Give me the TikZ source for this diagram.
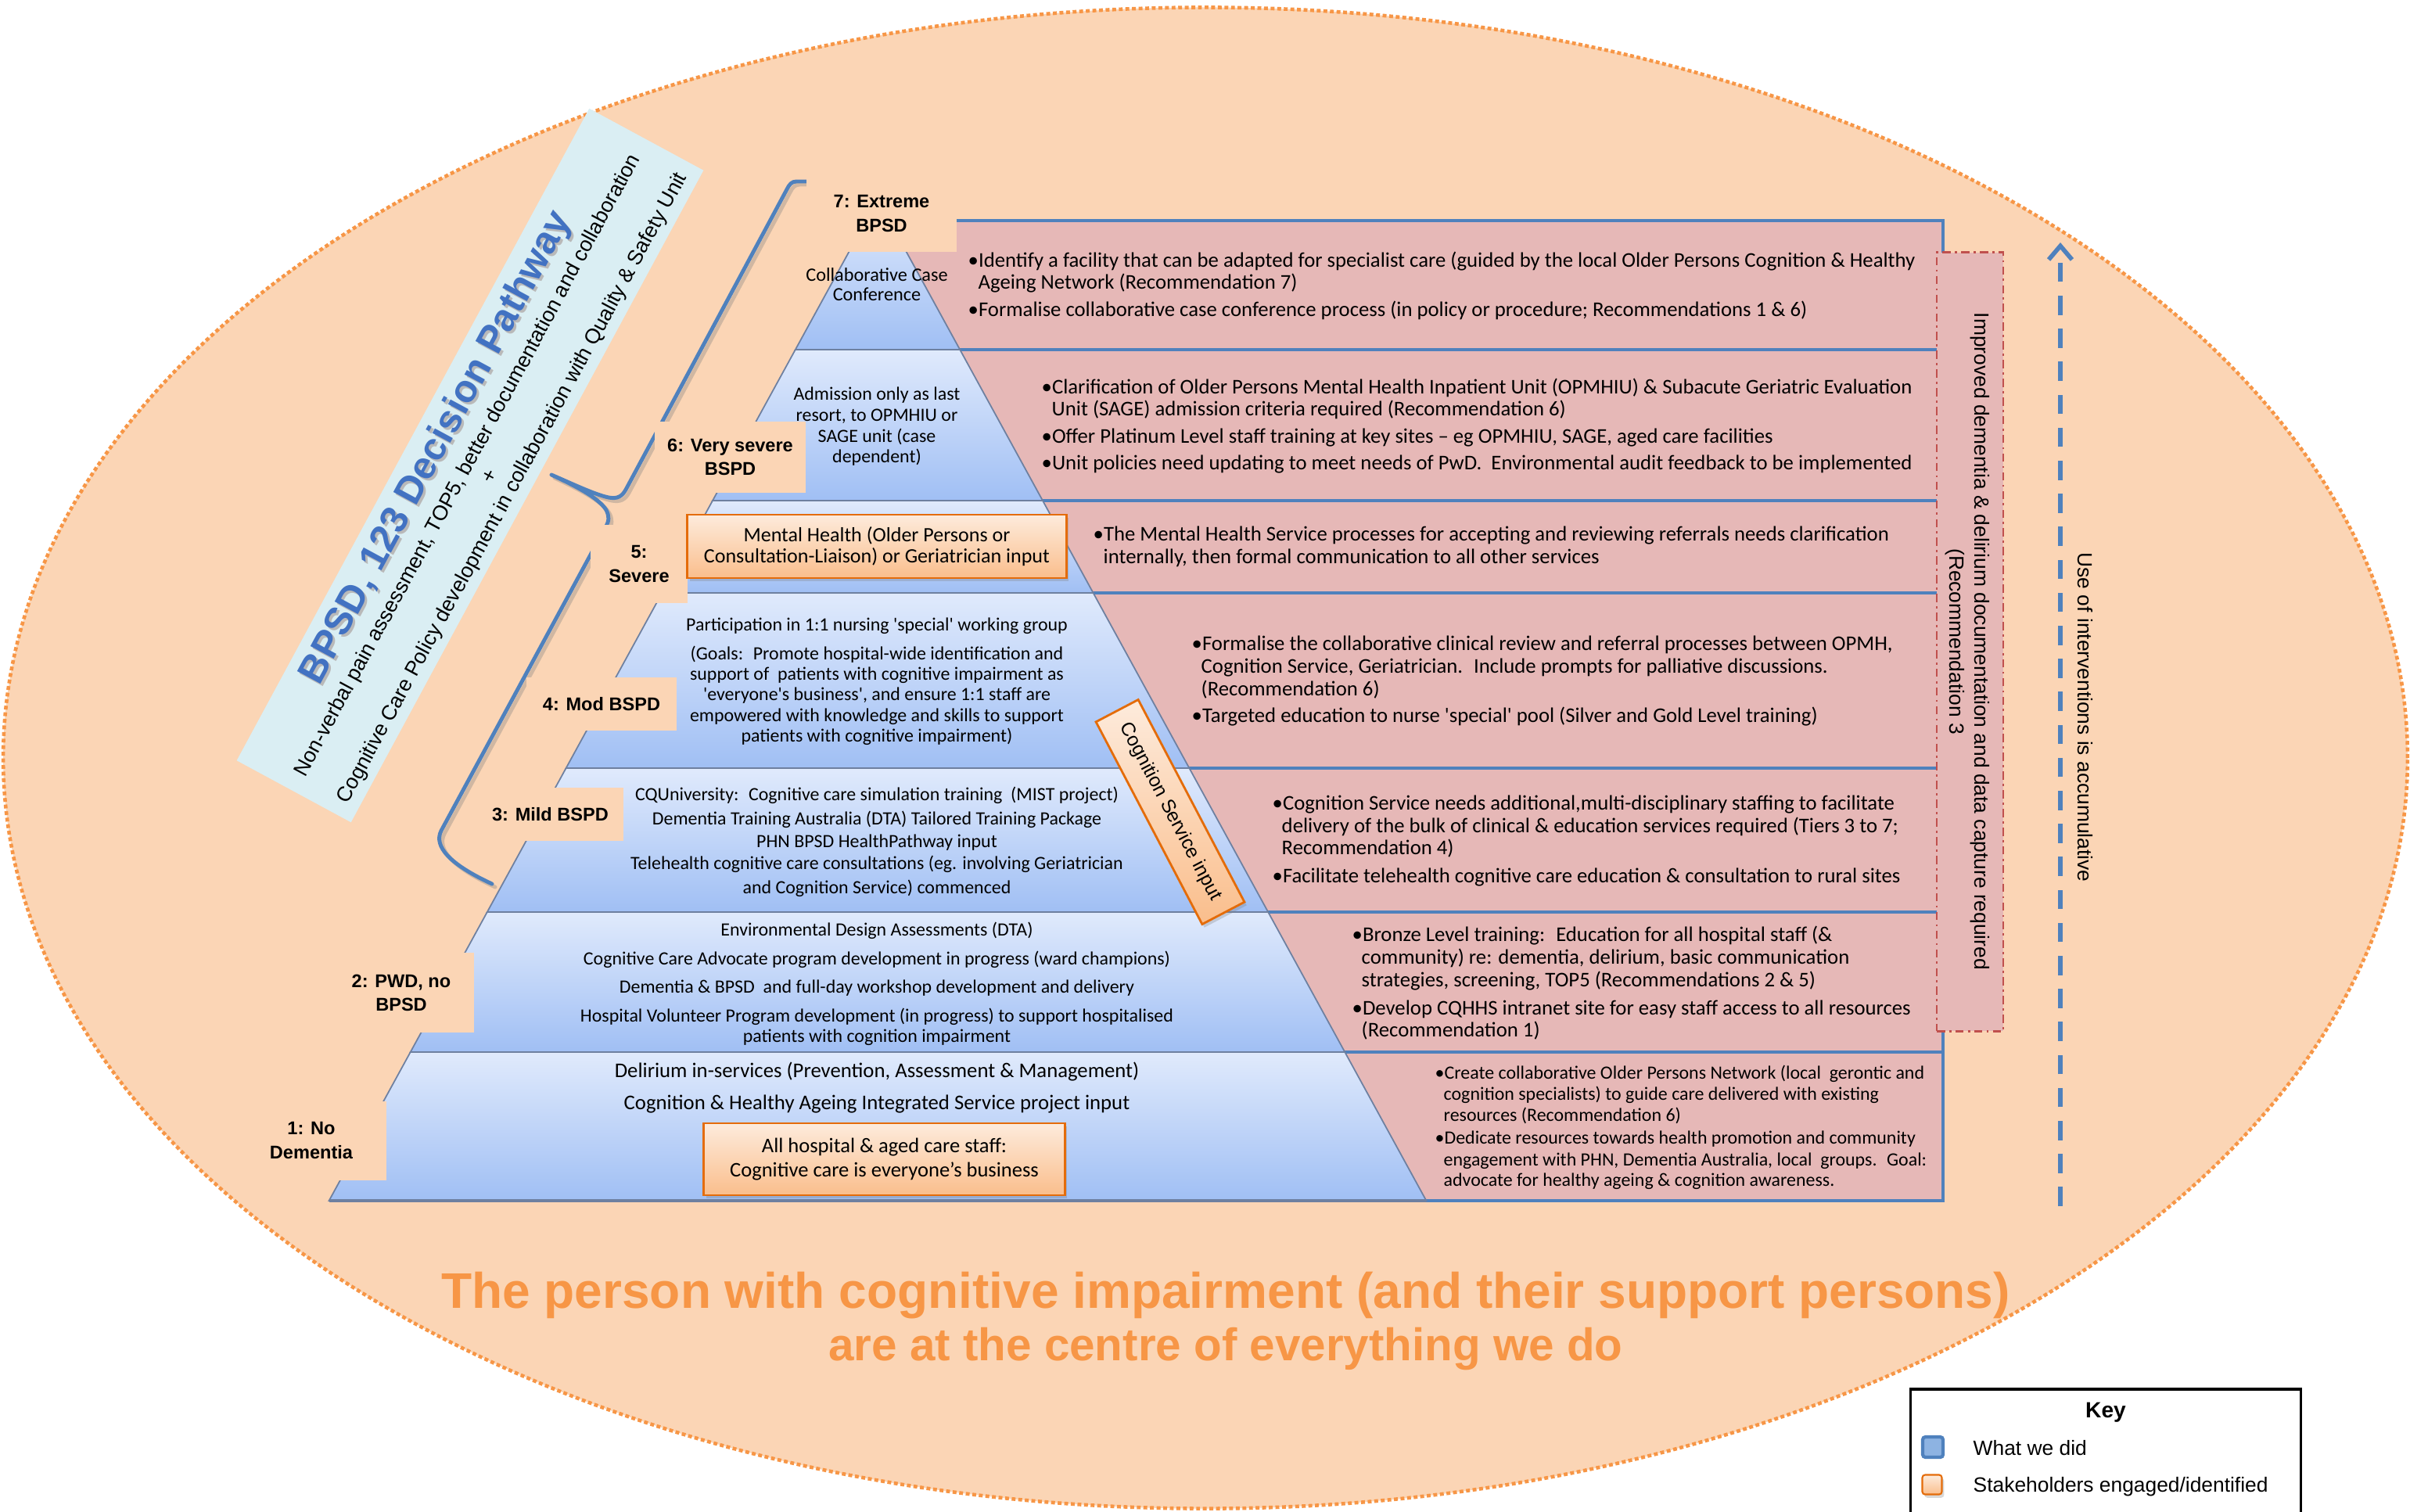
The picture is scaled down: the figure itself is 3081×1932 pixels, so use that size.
\documentclass[tikz,border=0pt]{standalone}
\usepackage{fontspec}
\newfontfamily\calib{Carlito}
\newfontfamily\ari{Liberation Sans}
\usetikzlibrary{arrows.meta,shadows}

\newcommand\fsz[2]{\fontsize{#1}{#2}\selectfont}
\newcommand\sq{\textquotesingle}

\definecolor{peach}{RGB}{251,213,181}
\definecolor{ellorange}{RGB}{247,150,70}
\definecolor{titlebg}{RGB}{218,238,243}
\definecolor{titleblue}{RGB}{66,114,194}
\definecolor{pinkbg}{RGB}{230,184,183}
\definecolor{panelblue}{RGB}{79,129,189}
\definecolor{tiertop}{RGB}{224,234,252}
\definecolor{tierbot}{RGB}{160,191,244}
\definecolor{tierline}{RGB}{110,128,160}
\definecolor{boxtop}{RGB}{253,235,220}
\definecolor{boxbot}{RGB}{250,190,140}
\definecolor{boxedge}{RGB}{228,108,10}
\definecolor{dashred}{RGB}{192,80,77}
\definecolor{braceblue}{RGB}{79,129,189}
\definecolor{keyblue}{RGB}{141,179,226}

\begin{document}
\begin{tikzpicture}[x=0.01cm,y=-0.01cm,
  tier/.style={top color=tiertop, bottom color=tierbot, draw=tierline, line width=0.5pt},
  pline/.style={draw=panelblue, line width=0.9pt},
  lbl/.style={fill=peach, inner sep=0pt, align=center, font=\ari\bfseries\fsz{6.7}{8.6}},
  obox/.style={top color=boxtop, bottom color=boxbot, draw=boxedge, line width=0.8pt,
    drop shadow={opacity=0.3, shadow xshift=0.8pt, shadow yshift=-1.2pt}},
  pk/.style={anchor=mid west, inner sep=0pt, font=\calib\fsz{7.6}{8.5}},
  pks/.style={anchor=mid west, inner sep=0pt, font=\calib\fsz{6.8}{7.5}},
  pc/.style={anchor=mid, inner sep=0pt},
  brace/.style={draw=braceblue, line width=1.4pt, line cap=round, line join=round},
  rot/.style={rotate=61.6, anchor=mid, inner sep=0pt}]

\useasboundingbox (0,0) rectangle (3081,1932);
\fill[white] (0,0) rectangle (3081,1932);

% central ellipse
\path[fill=peach, draw=ellorange, line width=1.3pt, dash pattern=on 1.4pt off 1pt]
  (1541,969) ellipse [x radius=15.36cm, y radius=9.59cm];

% title band
\node[fill=titlebg, rotate=61.6, minimum width=9.47cm, minimum height=1.66cm, inner sep=0pt]
  (titlebox) at (601,595) {};
\node[rot, font=\ari\bfseries\fsz{14}{16}, text=gray!55] (titleshadow) at (566,578)
  {BPSD, 123 Decision Pathway};
\node[rot, font=\ari\bfseries\fsz{14}{16}, text=titleblue] (title) at (563,575)
  {BPSD, 123 Decision Pathway};
\node[rot, font=\ari\fsz{7.6}{8}] (tline2) at (598,595)
  {Non-verbal pain assessment, TOP5, better documentation and collaboration};
\node[rot, font=\ari\fsz{7.6}{8}] (tplus) at (627,609) {+};
\node[rot, font=\ari\fsz{7.6}{8}] (tline4) at (655,624)
  {Cognitive Care Policy development in collaboration with Quality \& Safety Unit};

% pink action panels
\fill[pinkbg] (1135.7,282) -- (2484,282) -- (2484,1535) -- (1823.4,1535) -- cycle;
\draw[pline] (1135.7,282) -- (2484,282) -- (2484,1535) -- (1823.4,1535);
\draw[pline] (1227.2,447) -- (2484,447);
\draw[pline] (1333,640) -- (2484,640);
\draw[pline] (1397.6,758) -- (2484,758);
\draw[pline] (1520.4,982) -- (2484,982);
\draw[pline] (1621.2,1166) -- (2484,1166);
\draw[pline] (1719.3,1345) -- (2484,1345);

% pyramid tiers
\path[tier] (1122,255) -- (1227.2,447) -- (1016.8,447) -- cycle;
\path[tier] (1016.8,447) -- (1227.2,447) -- (1333,640) -- (911,640) -- cycle;
\path[tier] (911,640) -- (1333,640) -- (1397.6,758) -- (846.4,758) -- cycle;
\path[tier] (846.4,758) -- (1397.6,758) -- (1520.4,982) -- (723.6,982) -- cycle;
\path[tier] (723.6,982) -- (1520.4,982) -- (1621.2,1166) -- (622.8,1166) -- cycle;
\path[tier] (622.8,1166) -- (1621.2,1166) -- (1719.3,1345) -- (524.7,1345) -- cycle;
\path[tier] (524.7,1345) -- (1719.3,1345) -- (1823.4,1535) -- (420.6,1535) -- cycle;
\draw[tierline, line width=1.2pt] (420.6,1535) -- (1823.4,1535);

% severity brace (shadow, then stroke)
\draw[brace, draw=gray, opacity=0.35, shift={(0.04cm,-0.04cm)}]
  (1040,232) -- (1018,232) .. controls (1012,232) and (1009,236) .. (1006,242) -- (800,626)
  .. controls (795,635) and (789,638) .. (778,636)
  .. controls (760,632) and (735,620) .. (705,607)
  .. controls (735,621) and (765,636) .. (775,652)
  .. controls (779,660) and (779,666) .. (774,674) -- (564,1062)
  .. controls (554,1082) and (575,1105) .. (629,1130);
\draw[brace]
  (1040,232) -- (1018,232) .. controls (1012,232) and (1009,236) .. (1006,242) -- (800,626)
  .. controls (795,635) and (789,638) .. (778,636)
  .. controls (760,632) and (735,620) .. (705,607)
  .. controls (735,621) and (765,636) .. (775,652)
  .. controls (779,660) and (779,666) .. (774,674) -- (564,1062)
  .. controls (554,1082) and (575,1105) .. (629,1130);

% severity labels
\node[lbl, minimum width=1.92cm, minimum height=0.98cm] (lev7) at (1127,273) {7: Extreme\\BPSD};
\node[lbl, minimum width=1.93cm, minimum height=0.91cm] (lev6) at (933.5,584.5) {6: Very severe\\BSPD};
\node[lbl, minimum width=1.24cm, minimum height=1.00cm] (lev5) at (817,721) {5:\\Severe};
\node[lbl, minimum width=1.92cm, minimum height=0.68cm] (lev4) at (769,900) {4: Mod BSPD};
\node[lbl, minimum width=1.87cm, minimum height=0.68cm] (lev3) at (703.5,1041) {3: Mild BSPD};
\node[lbl, minimum width=1.86cm, minimum height=1.01cm] (lev2) at (513,1269) {2: PWD, no\\BPSD};
\node[lbl, minimum width=1.92cm, minimum height=1.01cm] (lev1) at (398,1458) {1: No\\Dementia};

% stakeholder boxes
\node[obox, minimum width=4.84cm, minimum height=0.81cm, inner sep=0pt, align=center,
  font=\calib\fsz{7.4}{7.9}] (mh) at (1121,698.5)
  {Mental Health (Older Persons or\\Consultation-Liaison) or Geriatrician input};
\node[obox, minimum width=4.61cm, minimum height=0.92cm, inner sep=0pt, align=center,
  font=\calib\fsz{7.55}{9}] (staff) at (1130.5,1482)
  {All hospital \& aged care staff:\\Cognitive care is everyone’s business};
\node[obox, rotate=-62.3, minimum width=2.92cm, minimum height=0.61cm, inner sep=0pt,
  font=\ari\fsz{7}{8}] (cogsvc) at (1496,1038) {Cognition Service input};

% pyramid contents
\node[pc, font=\calib\fsz{6.9}{7}] (p7a) at (1121,352) {Collaborative Case};
\node[pc, font=\calib\fsz{6.9}{7}] (p7b) at (1121,377) {Conference};
\node[pc, font=\calib\fsz{6.8}{7}] (p6a) at (1121,504) {Admission only as last};
\node[pc, font=\calib\fsz{6.8}{7}] (p6b) at (1121,531) {resort, to OPMHIU or};
\node[pc, font=\calib\fsz{6.8}{7}] (p6c) at (1121,558) {SAGE unit (case};
\node[pc, font=\calib\fsz{6.8}{7}] (p6d) at (1121,584) {dependent)};
\node[pc, font=\calib\fsz{6.8}{7}] (p4a) at (1121,799) {Participation in 1:1 nursing \sq special\sq{} working group};
\node[pc, font=\calib\fsz{6.8}{7}] (p4b) at (1121,836) {(Goals:~ Promote hospital-wide identification and};
\node[pc, font=\calib\fsz{6.8}{7}] (p4c) at (1121,862) {support of~ patients with cognitive impairment as};
\node[pc, font=\calib\fsz{6.8}{7}] (p4d) at (1121,888) {\sq everyone\sq s business\sq, and ensure 1:1 staff are};
\node[pc, font=\calib\fsz{6.8}{7}] (p4e) at (1121,915) {empowered with knowledge and skills to support};
\node[pc, font=\calib\fsz{6.8}{7}] (p4f) at (1121,941) {patients with cognitive impairment)};
\node[pc, font=\calib\fsz{6.8}{8}] (p3a) at (1121,1016) {CQUniversity:~ Cognitive care simulation training~ (MIST project)};
\node[pc, font=\calib\fsz{6.8}{8}] (p3b) at (1121,1047) {Dementia Training Australia (DTA) Tailored Training Package};
\node[pc, font=\calib\fsz{6.8}{8}] (p3c) at (1121,1076) {PHN BPSD HealthPathway input};
\node[pc, font=\calib\fsz{6.8}{8}] (p3d) at (1121,1104) {Telehealth cognitive care consultations (eg. involving Geriatrician};
\node[pc, font=\calib\fsz{6.8}{8}] (p3e) at (1121,1135) {and Cognition Service) commenced};
\node[pc, font=\calib\fsz{6.8}{8}] (p2a) at (1121,1189) {Environmental Design Assessments (DTA)};
\node[pc, font=\calib\fsz{6.8}{8}] (p2b) at (1121,1226) {Cognitive Care Advocate program development in progress (ward champions)};
\node[pc, font=\calib\fsz{6.8}{8}] (p2c) at (1121,1262) {Dementia \& BPSD~ and full-day workshop development and delivery};
\node[pc, font=\calib\fsz{6.8}{8}] (p2d) at (1121,1299) {Hospital Volunteer Program development (in progress) to support hospitalised};
\node[pc, font=\calib\fsz{6.8}{8}] (p2e) at (1121,1325) {patients with cognition impairment};
\node[pc, font=\calib\fsz{7.6}{8}] (p1a) at (1121,1370) {Delirium in-services (Prevention, Assessment \& Management)};
\node[pc, font=\calib\fsz{7.6}{8}] (p1b) at (1121,1411) {Cognition \& Healthy Ageing Integrated Service project input};

% panel texts
\node[pk] (r7a) at (1237,334) {•Identify a facility that can be adapted for specialist care (guided by the local Older Persons Cognition \& Healthy};
\node[pk] (r7b) at (1250,362) {Ageing Network (Recommendation 7)};
\node[pk] (r7c) at (1237,397) {•Formalise collaborative case conference process (in policy or procedure; Recommendations 1 \& 6)};
\node[pk] (r6a) at (1331,496) {•Clarification of Older Persons Mental Health Inpatient Unit (OPMHIU) \& Subacute Geriatric Evaluation};
\node[pk] (r6b) at (1344,524) {Unit (SAGE) admission criteria required (Recommendation 6)};
\node[pk] (r6c) at (1331,559) {•Offer Platinum Level staff training at key sites – eg OPMHIU, SAGE, aged care facilities};
\node[pk] (r6d) at (1331,593) {•Unit policies need updating to meet needs of PwD.~ Environmental audit feedback to be implemented};
\node[pk] (r5a) at (1397,684) {•The Mental Health Service processes for accepting and reviewing referrals needs clarification};
\node[pk] (r5b) at (1410,713) {internally, then formal communication to all other services};
\node[pk] (r4a) at (1523,824) {•Formalise the collaborative clinical review and referral processes between OPMH,};
\node[pk] (r4b) at (1535,853) {Cognition Service, Geriatrician.~ Include prompts for palliative discussions.};
\node[pk] (r4c) at (1535,882) {(Recommendation 6)};
\node[pk] (r4d) at (1523,916) {•Targeted education to nurse \sq special\sq{} pool (Silver and Gold Level training)};
\node[pk] (r3a) at (1626,1028) {•Cognition Service needs additional,multi-disciplinary staffing to facilitate};
\node[pk] (r3b) at (1638,1057) {delivery of the bulk of clinical \& education services required (Tiers 3 to 7;};
\node[pk] (r3c) at (1638,1085) {Recommendation 4)};
\node[pk] (r3d) at (1626,1121) {•Facilitate telehealth cognitive care education \& consultation to rural sites};
\node[pk] (r2a) at (1728,1196) {•Bronze Level training:~ Education for all hospital staff (\&};
\node[pk] (r2b) at (1740,1225) {community) re: dementia, delirium, basic communication};
\node[pk] (r2c) at (1740,1254) {strategies, screening, TOP5 (Recommendations 2 \& 5)};
\node[pk] (r2d) at (1728,1290) {•Develop CQHHS intranet site for easy staff access to all resources};
\node[pk] (r2e) at (1740,1318) {(Recommendation 1)};
\node[pks] (r1a) at (1834,1372) {•Create collaborative Older Persons Network (local~ gerontic and};
\node[pks] (r1b) at (1845,1399) {cognition specialists) to guide care delivered with existing};
\node[pks] (r1c) at (1845,1426) {resources (Recommendation 6)};
\node[pks] (r1d) at (1834,1455) {•Dedicate resources towards health promotion and community};
\node[pks] (r1e) at (1845,1483) {engagement with PHN, Dementia Australia, local~ groups.~ Goal:};
\node[pks] (r1f) at (1845,1509) {advocate for healthy ageing \& cognition awareness.};

% documentation requirement
\node[fill=pinkbg, draw=dashred, line width=0.7pt,
  dash pattern=on 3pt off 1.5pt on 0.8pt off 1.5pt,
  minimum width=0.85cm, minimum height=9.95cm, inner sep=0pt] (docbox) at (2518.5,820.5) {};
\node[rotate=-90, align=center, inner sep=0pt, font=\ari\fsz{7.5}{9}] (doctext) at (2515,820)
  {Improved dementia \& delirium documentation and data capture required\\(Recommendation 3};

% accumulation arrow
\coordinate (accbot) at (2634,1542);
\coordinate (acctop) at (2634,310);
\draw[panelblue, line width=1.6pt, dash pattern=on 7pt off 5pt,
  -{Straight Barb[length=5pt,width=8.5pt]}] (accbot) -- (acctop);
\node[rotate=-90, inner sep=0pt, font=\ari\fsz{7.5}{9}] (acclabel) at (2666,917)
  {Use of interventions is accumulative};

% central message
\node[anchor=base, inner sep=0pt, font=\ari\bfseries\fsz{18.2}{20}, text=ellorange] (motto1)
  at (1567,1672) {The person with cognitive impairment (and their support persons)};
\node[anchor=base, inner sep=0pt, font=\ari\bfseries\fsz{16.6}{19}, text=ellorange] (motto2)
  at (1567,1739) {are at the centre of everything we do};

% key
\node[draw=black, line width=0.9pt, fill=white, minimum width=4.98cm, minimum height=2.2cm,
  inner sep=0pt] (keybox) at (2692,1886) {};
\node[pc, font=\ari\bfseries\fsz{8}{9}] (keytitle) at (2692,1805) {Key};
\node[fill=keyblue, draw=panelblue, line width=1.2pt, rounded corners=1pt,
  minimum width=0.26cm, minimum height=0.26cm, inner sep=0pt] (keysq1) at (2471,1850) {};
\node[obox, line width=0.6pt, rounded corners=1pt,
  minimum width=0.25cm, minimum height=0.25cm, inner sep=0pt] (keysq2) at (2470,1898) {};
\node[anchor=mid west, inner sep=0pt, font=\ari\fsz{7.5}{9}] (key1) at (2522,1853) {What we did};
\node[anchor=mid west, inner sep=0pt, font=\ari\fsz{7.5}{9}] (key2) at (2522,1900) {Stakeholders engaged/identified};

\end{tikzpicture}
\end{document}
